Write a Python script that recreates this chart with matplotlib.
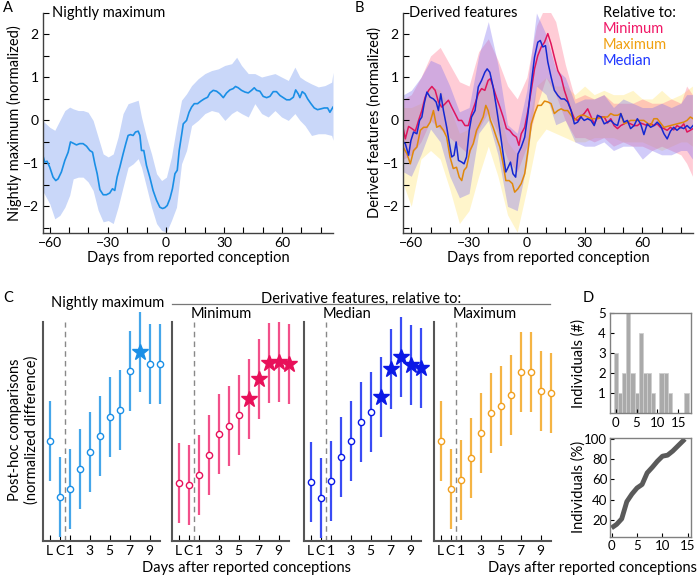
import numpy as np
import matplotlib
matplotlib.use('Agg')
import matplotlib.pyplot as plt
from matplotlib.lines import Line2D

plt.rcParams.update({'font.family': ['Lato', 'DejaVu Sans'], 'font.size': 9.5,
                     'axes.linewidth': 1.0, 'axes.edgecolor': '#404040'})

# ---------------- Panel A: nightly maximum ----------------
a_day = [-63.8, -62.6, -61.4, -60, -58.3, -56.9, -55.7, -54, -52.2, -50.5,
         -49.3, -47.9, -46.2, -44.5, -42.8, -41, -39.3, -37.9, -36.7, -35.5,
         -34.1, -32.4, -30.7, -29, -27.6, -26.4, -25.2, -23.8, -22.1, -20.7,
         -19.5, -18.3, -16.9, -15.7, -14.3, -13.4, -12.6, -11.4, -10, -8.3,
         -6.6, -4.8, -3.1, -1.7, -0.5, 0.7, 2.1, 3.4, 4.7, 5.9,
         6.9, 8.1, 9, 10.7, 12, 13.3, 14.7, 16.4, 18.1, 19.8,
         21.6, 22.8, 24.5, 26.2, 27.9, 29.7, 31.4, 33.1, 34.8, 36,
         37.4, 39.1, 40.9, 42.6, 44.3, 45.7, 46.9, 48.6, 50.3, 52.1,
         53.8, 55.5, 57.2, 59, 60.7, 62.4, 64.1, 65.9, 67.1, 68.4,
         69.3, 70.5, 71.9, 73.3, 75, 76.7, 78.4, 80.2, 81.9, 83.6,
         84.8, 86.4]
a_val = [-0.78, -0.97, -0.95, -1.09, -1.32, -1.40, -1.36, -1.20, -0.93, -0.74,
         -0.50, -0.53, -0.57, -0.54, -0.54, -0.60, -0.70, -0.74, -1.01, -1.24,
         -1.61, -1.73, -1.73, -1.69, -1.59, -1.63, -1.32, -1.09, -0.78, -0.54,
         -0.35, -0.33, -0.35, -0.27, -0.25, -0.35, -0.70, -0.70, -1.05, -1.32,
         -1.63, -1.86, -2.02, -2.05, -2.03, -1.98, -1.82, -1.59, -1.24, -1.16,
         -0.70, -0.35, -0.08, 0.0, 0.19, 0.31, 0.39, 0.39, 0.45, 0.50,
         0.54, 0.64, 0.70, 0.68, 0.62, 0.53, 0.64, 0.71, 0.74, 0.79,
         0.76, 0.70, 0.66, 0.64, 0.70, 0.76, 0.70, 0.68, 0.56, 0.53,
         0.56, 0.67, 0.67, 0.58, 0.53, 0.48, 0.48, 0.54, 0.71, 0.62,
         0.53, 0.67, 0.62, 0.50, 0.39, 0.29, 0.25, 0.27, 0.29, 0.29,
         0.19, 0.31]
a_band_day = [-63.8, -60, -57.4, -54.8, -52.2, -49.7, -47.9, -45.3, -42.8, -40.2,
              -37.6, -35, -32.4, -29.8, -27.2, -24.7, -22.1, -19.5, -16.9, -14.3,
              -12.6, -10, -7.4, -4.8, -2.2, 0.3, 2.9, 5.5, 8.1, 10.7,
              13.3, 16.7, 20.2, 23.6, 27.1, 30.5, 34, 36.6, 39.1, 42.6,
              46, 49.5, 52.9, 56.4, 59.8, 63.3, 66.7, 69.3, 71.9, 75.3,
              78.8, 82.2, 85.7, 86.4]
a_upper = [0, -0.16, -0.23, 0, 0.23, 0.31, 0.27, 0.23, 0.23, 0.19,
           0, -0.39, -0.78, -0.85, -0.78, -0.39, 0.16, 0.39, 0.43, 0.47,
           0.08, -0.39, -0.78, -1.24, -1.40, -1.32, -0.85, -0.16, 0.47, 0.62,
           0.81, 0.97, 1.09, 1.16, 1.20, 1.28, 1.32, 1.47, 1.28, 1.09,
           1.09, 1.01, 1.05, 1.09, 1.01, 0.93, 1.24, 1.01, 0.93, 0.85,
           0.78, 0.81, 0.89, 1.12]
a_lower = [-1.63, -1.94, -2.29, -2.21, -2.02, -1.74, -1.36, -1.32, -1.32, -1.43,
           -1.63, -2.09, -2.36, -2.33, -2.40, -2.02, -1.55, -1.09, -1.01, -0.89,
           -1.09, -1.55, -2.02, -2.40, -2.56, -2.60, -2.33, -2.02, -1.01, -0.70,
           -0.12, 0, 0.16, 0.23, 0.19, 0, 0.16, 0.23, 0.16, 0.08,
           0.39, 0.16, 0.08, 0.23, 0.08, 0, 0.16, 0, -0.12, -0.35,
           -0.31, -0.31, -0.35, -0.46]

# ---------------- Panel B: derived features ----------------
bmin_day = [-64.3, -63.1, -61.4, -59.7, -57.9, -56.2, -54.5, -52.8, -51, -49.3,
            -47.6, -45.9, -44.2, -42.4, -40.7, -39, -37.3, -35.5, -33.8, -32.1,
            -30.4, -28.7, -26.9, -25.2, -23.5, -21.8, -20.1, -18.9, -17.5, -15.8,
            -14, -12.3, -10.6, -8.9, -7.2, -5.4, -4.1, -2.9, -1.1, 0.6,
            2.3, 4, 5.7, 7.5, 9.2, 10.9,
            12.6, 14.3, 16.1, 17.8, 19.5, 21.2, 23, 24.7, 26.4, 28.1,
            29.8, 31.6, 33.3, 35, 36.7, 38.5, 40.2, 41.9, 43.6, 45.3,
            47.1, 48.8, 50.5, 52.2, 53.9, 55.7, 57.4, 59.1, 60.8, 62.5,
            64.3, 66, 67.7, 69.4, 71.2, 72.9, 74.6, 76.3, 78, 79.8,
            81.5, 83.2, 84.9, 86.3]
bmin_val = [-0.16, -0.43, -0.14, -0.19, -0.25, 0, 0.23, 0.54, 0.70, 0.79,
            0.70, 0.43, 0.31, 0.39, 0.47, 0.31, 0.16, 0, 0, -0.12,
            -0.12, 0.16, 0.39, 0.62, 0.74, 0.70, 0.93, 0.97, 0.78, 0.54,
            0.31, 0.08, -0.19, -0.23, -0.33, -0.39, -0.58, -0.31, -0.16, 0.23,
            0.70, 1.20, 1.51, 1.71, 1.82, 2.02,
            1.78, 1.47, 1.16, 1.01, 0.70, 0.47, 0.23, 0.04, 0, 0.09,
            0.16, 0.27, 0.09, -0.08, 0.08, 0.08, 0.08, -0.06, 0.04, -0.12,
            -0.19, -0.12, -0.08, -0.04, -0.08, -0.12, -0.12, -0.06, -0.09, -0.12,
            -0.08, -0.12, -0.08, -0.16, -0.19, -0.23, -0.16, -0.22, -0.12, -0.17,
            -0.08, -0.27, -0.23, -0.19]
bmed_day = [-64.3, -63.1, -61.4, -60.2, -58.8, -57.1, -55.7, -54.5, -53.3, -51.9,
            -50.2, -48.5, -47.1, -45.9, -44.7, -43.3, -41.6, -40.2, -39, -37.8,
            -36.7, -35.5, -33.8, -32.6, -31.3, -29.9, -28.7, -26.9, -25.2, -23.5,
            -21.8, -20.6, -19.2, -17.5, -15.8, -14, -12.3, -10.9, -9.7, -8.5,
            -7.2, -5.8, -4.6, -2.9, -1.1, 0.6, 2.3, 4, 5.7, 7, 8.3, 9.7,
            10.9, 12.6, 14.3, 16.1, 17.8, 19.5, 21.2, 23, 24.7, 26.4,
            28.1, 29.8, 31.6, 33.3, 35, 36.7, 38.5, 40.2, 41.9, 43.6,
            45.3, 47.1, 48.8, 50.5, 52.2, 53.9, 55.7, 57.4, 59.1, 60.8,
            62.5, 64.3, 66, 67.7, 69.4, 71.2, 72.9, 74.6, 76.3, 78,
            79.8, 81.5, 83.2, 84.9, 86.3]
bmed_val = [-0.50, -0.54, -0.81, -0.47, -0.27, -0.31, 0, 0.08, 0.39, 0.66,
            0.54, 0.50, 0.43, 0.23, 0.62, 0.23, -0.16, -0.54, -0.85, -0.81,
            -0.50, -0.93, -0.97, -1.01, -0.85, -0.23, 0.08, 0.23, 0.78, 0.93,
            1.12, 1.20, 1.12, 0.78, 0.31, -0.23, -0.78, -1.20, -1.09, -0.97,
            -1.24, -1.32, -0.78, -0.62, -0.39, 0.16, 0.85, 1.47, 1.82, 1.86, 1.71, 1.74,
            1.36, 1.01, 0.70, 0.58, 0.50, 0.50, 0.43, 0.23, -0.08, -0.04,
            0.08, 0, 0.04, 0, -0.12, 0.12, 0.08, -0.08, -0.04, 0,
            -0.08, -0.12, 0.16, -0.04, 0, -0.19, -0.12, 0.04, -0.08, -0.33,
            -0.08, -0.16, -0.12, -0.04, -0.12, -0.31, -0.43, -0.25, -0.16, -0.23,
            -0.16, -0.19, -0.12, -0.19, -0.12]
bmax_day = [-64.3, -62.2, -60.5, -58.8, -57.1, -55.3, -53.6, -51.9, -50.2, -48.5,
            -46.8, -45.1, -43.3, -41.6, -39.9, -38.2, -36.5, -35.1, -33.8, -32.6,
            -31.3, -29.5, -27.8, -26.1, -24.4, -22.7, -21.3, -20.1, -18.9, -17.5,
            -15.8, -14, -12.3, -10.9, -9.2, -7.5, -6.3, -4.6, -2.9, -1.1,
            0.6, 2.3, 4, 5.7, 7.5, 9.2,
            10.9, 12.6, 14.3, 16.1, 17.8, 19.5, 21.2, 23, 24.7, 26.4,
            28.1, 29.8, 33.3, 36.7, 40.2, 41.9, 43.6, 45.3, 47.1, 48.8,
            50.5, 53.9, 57.4, 60.8, 64.3, 66, 67.7, 71.2, 74.6, 78,
            81.5, 83.2, 84.9, 86.3]
bmax_val = [-0.62, -0.78, -1.01, -0.70, -0.62, -0.23, -0.16, -0.16, -0.04, 0.23,
            -0.16, -0.12, -0.23, -0.39, -0.85, -1.12, -1.09, -1.32, -1.40, -1.16,
            -1.09, -0.70, -0.54, -0.23, -0.08, 0.08, 0.35, 0.23, 0, -0.16,
            -0.39, -0.62, -1.01, -1.40, -1.40, -1.47, -1.67, -1.59, -1.47, -1.24,
            -0.70, -0.08, 0.16, 0.35, 0.35, 0.45,
            0.43, 0.39, 0.16, 0.23, 0.27, 0.23, 0.23, 0.12, 0, 0.08,
            0.12, 0.12, 0.04, 0.04, 0.08, 0.08, 0.16, 0.12, 0.12, 0.16,
            -0.08, 0, 0, 0, -0.12, 0.04, 0.04, -0.16, -0.12, -0.08,
            -0.04, 0, 0.08, 0.04]

b_band_day = [-64, -60, -55, -50, -45, -40, -35, -30, -25, -20, -15, -10, -5, 0, 5, 10,
              15, 20, 25, 30, 35, 40, 45, 50, 55, 60, 65, 70, 75, 80, 83, 86]
bmin_up = [0.5, 0.6, 1.0, 1.5, 1.7, 1.3, 0.9, 0.8, 1.6, 1.9, 1.4, 0.8, 0.5, 1.0, 2.2, 2.7,
           2.3, 1.3, 0.5, 0.6, 0.5, 0.6, 0.4, 0.4, 0.4, 0.5, 0.4, 0.4, 0.5, 0.4, 0.8, 0.6]
bmin_lo = [-0.9, -0.8, -0.5, 0.0, -0.2, -0.4, -0.6, -0.8, -0.2, 0.2, -0.3, -0.9, -1.2, -0.6, 0.3, 1.0,
           0.6, 0.0, -0.4, -0.4, -0.5, -0.4, -0.6, -0.5, -0.6, -0.6, -0.7, -0.6, -0.7, -0.8, -1.0, -1.3]
bmed_up = [0.6, 0.7, 1.0, 1.4, 1.3, 0.8, 0.2, 0.3, 1.5, 2.3, 1.3, -0.1, -0.3, 0.7, 2.5, 2.0,
           1.2, 1.0, 0.4, 0.5, 0.5, 0.6, 0.3, 0.5, 0.4, 0.3, 0.3, 0.4, 0.3, 0.4, 0.6, 0.6]
bmed_lo = [-1.2, -1.3, -0.8, -0.2, -0.5, -1.3, -1.8, -1.7, -0.3, 0.0, -0.8, -2.0, -2.1, -1.0, 0.8, 0.6,
           -0.1, 0.0, -0.5, -0.6, -0.6, -0.5, -0.7, -0.6, -0.6, -0.9, -0.7, -0.8, -0.8, -0.7, -0.7, -0.9]
bmax_up = [0.3, 0.3, 0.4, 0.8, 0.7, 0.3, -0.3, -0.2, 0.7, 1.0, 0.3, -0.5, -0.8, -0.2, 0.8, 1.0,
           0.8, 0.8, 0.6, 0.8, 0.6, 0.7, 0.6, 0.6, 0.7, 0.5, 0.5, 0.7, 0.5, 0.6, 0.7, 0.8]
bmax_lo = [-1.5, -2.0, -0.9, -0.7, -0.9, -1.6, -2.4, -2.1, -1.3, -0.6, -1.3, -2.2, -2.6, -1.6, -0.5, -0.2,
           -0.3, -0.4, -0.5, -0.5, -0.4, -0.4, -0.4, -0.5, -0.5, -0.5, -0.6, -0.7, -0.6, -0.5, -0.5, -0.6]

# ---------------- Panel C: post-hoc comparisons ----------------
c_pos = [-1, 0, 1, 2, 3, 4, 5, 6, 7, 8, 9, 10]
c_ticks = [-1, 0, 1, 3, 5, 7, 9]
c_ticklabels = ['L', 'C', '1', '3', '5', '7', '9']
c_nightly = [4.57, 2.01, 2.37, 3.29, 4.06, 4.79, 5.66, 5.98, 7.76, 8.63, 8.08, 8.08]
c_minimum = [2.65, 2.56, 3.01, 3.93, 4.89, 5.25, 5.75, 6.48, 7.40, 8.13, 8.17, 8.08]
c_median = [2.69, 1.96, 2.74, 3.84, 4.57, 5.43, 5.89, 6.58, 7.85, 8.40, 8.04, 7.90]
c_maximum = [4.57, 2.37, 2.79, 3.79, 4.93, 5.84, 6.16, 6.67, 7.72, 7.72, 6.85, 6.76]
c_err = [1.83, 1.83, 1.83, 1.83, 1.83, 1.83, 1.83, 1.83, 1.83, 1.83, 1.83, 1.83]
sig_nightly = [8]
sig_minimum = [6, 7, 8, 9, 10]
sig_median = [6, 7, 8, 9, 10]
sig_maximum = []

# ---------------- Panel D ----------------
hist_days = [0, 1, 2, 3, 4, 5, 6, 7, 8, 9, 10, 11, 12, 13, 14, 15, 16, 17]
hist_counts = [3, 1, 2, 5, 2, 1, 4, 2, 2, 1, 0, 2, 2, 1, 0, 0, 0, 1]
cdf_days = [0, 1, 2, 3, 4, 5, 6, 7, 8, 9, 10, 11, 12, 13, 14, 14.4]
cdf_pct = [12, 15.5, 21, 38, 45.5, 51.5, 55, 66.5, 72, 78, 83, 84, 88, 93, 98, 100]

W, H = 700, 577
fig = plt.figure(figsize=(7.0, 5.77), dpi=100)


def add_ax(l, t, r, b):
    return fig.add_axes([l / W, 1 - b / H, (r - l) / W, (b - t) / H])


def style_time_axis(ax, xlim):
    for s in ['top', 'right']:
        ax.spines[s].set_visible(False)
    ax.set_xlim(*xlim)
    ax.set_ylim(-2.62, 2.5)
    ax.set_xticks([-60, -30, 0, 30, 60])
    ax.set_xticks(np.arange(-60, 81, 10), minor=True)
    ax.set_yticks([-2, -1, 0, 1, 2])
    ax.set_yticks(np.arange(-2.5, 2.6, 0.5), minor=True)
    ax.tick_params(which='both', direction='in', length=4, width=0.8, labelsize=10, pad=3)
    ax.set_xlabel('Days from reported conception', fontsize=10.5, labelpad=1)


# ---- A ----
axA = add_ax(43, 13, 333, 233)
axA.fill_between(a_band_day, a_lower, a_upper, color='#c9d7f9', lw=0)
axA.plot(a_day, a_val, color='#1a8fe6', lw=1.2)
style_time_axis(axA, (-63.5, 86.4))
axA.set_ylabel('Nightly maximum (normalized)', fontsize=10.5)
axA.yaxis.set_label_coords(-21 / 290, 0.5)
axA.text(0.03, 1.0, 'Nightly maximum', transform=axA.transAxes, fontsize=10.5, va='center')

# ---- B ----
axB = add_ax(403, 13, 693, 233)
axB.fill_between(b_band_day, bmax_lo, bmax_up, color='#ffe46b', alpha=0.35, lw=0)
axB.fill_between(b_band_day, bmin_lo, bmin_up, color='#ff6f8a', alpha=0.35, lw=0)
axB.fill_between(b_band_day, bmed_lo, bmed_up, color='#7c6cf0', alpha=0.35, lw=0)
axB.plot(bmin_day, bmin_val, color='#e0155c', lw=1.1)
axB.plot(bmax_day, bmax_val, color='#e0880a', lw=1.1)
axB.plot(bmed_day, bmed_val, color='#1428d2', lw=1.1)
style_time_axis(axB, (-64.3, 86.3))
axB.set_ylabel('Derived features (normalized)', fontsize=10.5)
axB.yaxis.set_label_coords(-21 / 290, 0.5)
axB.text(0.02, 1.0, 'Derived features', transform=axB.transAxes, fontsize=10.5, va='center')
for lbl, col, yy in [('Relative to:', 'black', 13), ('Minimum', '#f01866', 29),
                     ('Maximum', '#f0a010', 45), ('Median', '#1e36ff', 61)]:
    fig.text(603 / W, 1 - yy / H, lbl, color=col, fontsize=10.5, va='center')

# ---- C ----
c_panels = [
    (43, 'Nightly maximum', c_nightly, sig_nightly, '#45a6ea', '#1a8fe6'),
    (172, 'Minimum', c_minimum, sig_minimum, '#f2508a', '#e8105a'),
    (304, 'Median', c_median, sig_median, '#3a4cf5', '#0a18e6'),
    (434, 'Maximum', c_maximum, sig_maximum, '#f5b444', '#f0a020'),
]
for left, title, vals, sig, barcol, markcol in c_panels:
    ax = add_ax(left, 322, left + 117, 541)
    ax.set_xlim(-1.65, 10.05)
    ax.set_ylim(0, 10)
    for s in ['top', 'right']:
        ax.spines[s].set_visible(False)
    for s in ['left', 'bottom']:
        ax.spines[s].set_color('#555555')
        ax.spines[s].set_linewidth(1.5)
    ax.axvline(0.5, color='#888888', ls=(0, (4, 3)), lw=1.0)
    ax.errorbar(c_pos, vals, yerr=c_err, fmt='none', ecolor=barcol, elinewidth=1.6,
                capsize=0, clip_on=False, zorder=2)
    plain = [i for i in range(len(c_pos)) if c_pos[i] not in sig]
    stars = [i for i in range(len(c_pos)) if c_pos[i] in sig]
    ax.plot([c_pos[i] for i in plain], [vals[i] for i in plain], 'o', ms=4.5,
            mfc='white', mec=markcol, mew=1.0, clip_on=False, zorder=3)
    if stars:
        ax.plot([c_pos[i] for i in stars], [vals[i] for i in stars], '*', ms=12,
                color=markcol, mec=markcol, clip_on=False, zorder=3)
    ax.set_yticks([])
    ax.set_xticks(c_ticks)
    ax.set_xticklabels(c_ticklabels)
    ax.tick_params(axis='x', direction='in', length=4, width=0.8, labelsize=10, pad=3)
    if title == 'Nightly maximum':
        ax.text(0.55, 1.085, title, transform=ax.transAxes, fontsize=10.5,
                ha='center', va='center')
    else:
        ax.text(0.16, 1.035, title, transform=ax.transAxes, fontsize=10.5,
                ha='left', va='center')

fig.text(361 / W, 1 - 299 / H, 'Derivative features, relative to:', fontsize=10.5,
         ha='center', va='center')
fig.add_artist(Line2D([172 / W, 550 / W], [1 - 304 / H, 1 - 304 / H],
                      color='#777777', lw=0.9))
fig.text(23 / W, 1 - 430 / H, 'Post-hoc comparisons\n(normalized difference)',
         rotation=90, fontsize=10.5, ha='center', va='center', linespacing=1.2)
fig.text(142 / W, 1 - 568 / H, 'Days after reported conceptions', fontsize=10.5,
         ha='left', va='center')

# ---- D ----
axH = add_ax(610, 313, 691, 413)
axH.bar(hist_days, hist_counts, width=1.0, color='#aaaaaa', edgecolor='#cfcfcf', lw=0.6)
axH.set_xlim(-1.4, 18.1)
axH.set_ylim(0, 5)
axH.set_xticks([0, 5, 10, 15])
axH.set_yticks([1, 2, 3, 4, 5])
axH.tick_params(direction='in', length=3, width=0.8, labelsize=9.5, pad=3)
for s in axH.spines.values():
    s.set_color('#808080')

axP = add_ax(610, 438, 691, 537)
axP.plot(cdf_days, cdf_pct, color='#5a5a5a', lw=3.5, solid_capstyle='butt')
axP.set_xlim(-0.3, 15.6)
axP.set_ylim(3, 101)
axP.set_xticks([0, 5, 10, 15])
axP.set_yticks([20, 40, 60, 80, 100])
axP.tick_params(direction='in', length=3, width=0.8, labelsize=9.5, pad=2)
for s in axP.spines.values():
    s.set_color('#808080')

fig.text(579 / W, 1 - 363 / H, 'Individuals (#)', rotation=90, fontsize=10.5,
         ha='center', va='center')
fig.text(579 / W, 1 - 487 / H, 'Individuals (%)', rotation=90, fontsize=10.5,
         ha='center', va='center')
fig.text(697 / W, 1 - 568 / H, 'Days after reported conceptions', fontsize=10.5,
         ha='right', va='center')

# panel letters
for letter, x, y in [('A', 3, 8), ('B', 355, 8), ('C', 3, 298), ('D', 583, 298)]:
    fig.text(x / W, 1 - y / H, letter, fontsize=10.5, ha='left', va='center')

fig.savefig('out.png', dpi=100)
